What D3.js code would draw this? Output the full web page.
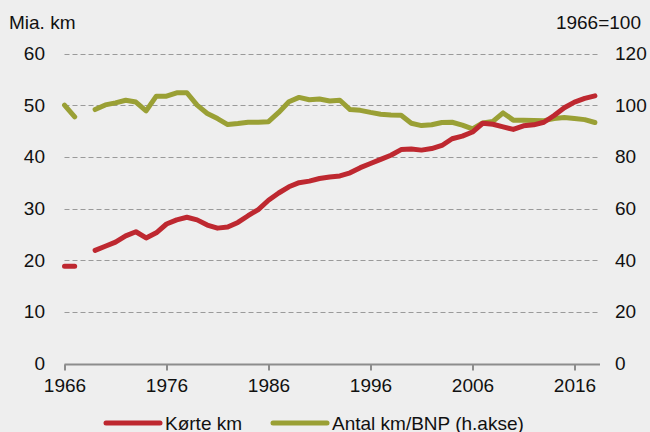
<!DOCTYPE html>
<html>
<head>
<meta charset="utf-8">
<script src="https://cdn.jsdelivr.net/npm/d3@7"></script>
<style>
  html, body { margin: 0; padding: 0; background: #eeeeee; }
  svg text { font-family: "Liberation Sans", Arial, sans-serif; fill: #111111; }
</style>
</head>
<body>
<div id="chart"></div>
<script>
// data
const years = d3.range(1966, 2019);
const korteKm = [18.8, 18.8, null, 21.9, 22.7, 23.5, 24.7, 25.5, 24.3, 25.3,
    27.0, 27.8, 28.3, 27.8, 26.8, 26.2, 26.4, 27.3, 28.6, 29.8,
    31.6, 33.0, 34.2, 35.0, 35.3, 35.8, 36.1, 36.3, 36.9, 37.9,
    38.7, 39.5, 40.3, 41.4, 41.5, 41.3, 41.6, 42.2, 43.5, 44.0,
    44.8, 46.5, 46.3, 45.8, 45.3, 46.0, 46.2, 46.7, 48.0, 49.5,
    50.6, 51.3, 51.8];
const kmBnp = [100, 95.5, null, 98.3, 100.1, 100.9, 101.9, 101.2, 97.8, 103.5,
    103.5, 104.8, 104.8, 100.0, 96.8, 94.8, 92.5, 92.9, 93.4, 93.4,
    93.6, 97.2, 101.3, 103.0, 102.1, 102.4, 101.6, 101.9, 98.3, 98.0,
    97.2, 96.5, 96.2, 96.1, 93.0, 92.1, 92.4, 93.3, 93.4, 92.3,
    90.8, 93.1, 93.7, 97.0, 94.2, 94.2, 94.1, 94.0, 94.8, 95.2,
    94.8, 94.4, 93.3];
const leftTicks = [0, 10, 20, 30, 40, 50, 60];
const rightTicks = [0, 20, 40, 60, 80, 100, 120];
const xTicks = [1966, 1976, 1986, 1996, 2006, 2016];
const seriesNames = ["Kørte km", "Antal km/BNP (h.akse)"];
const seriesColors = ["#be2830", "#9aa035"];

const width = 650, height = 432;
const fontSize = "19px";
const svg = d3.select("#chart").append("svg")
    .attr("width", width)
    .attr("height", height);

svg.append("rect").attr("width", width).attr("height", height).attr("fill", "#eeeeee");

const x = d3.scaleLinear().domain([1966, 2018.5]).range([64.5, 600]);
const yL = d3.scaleLinear().domain([0, 60]).range([363.5, 53.5]);
const yR = d3.scaleLinear().domain([0, 120]).range([363.5, 53.5]);

// gridlines
svg.append("g").selectAll("line")
    .data(leftTicks.filter(d => d > 0))
    .enter().append("line")
    .attr("x1", x(1966))
    .attr("x2", 598)
    .attr("y1", d => Math.round(yL(d)) + 0.5)
    .attr("y2", d => Math.round(yL(d)) + 0.5)
    .attr("stroke", "#9a9a9a")
    .attr("stroke-width", 1)
    .attr("stroke-dasharray", "5,3");

// left axis labels
svg.append("g").selectAll("text")
    .data(leftTicks)
    .enter().append("text")
    .attr("x", 45)
    .attr("y", d => yL(d))
    .attr("dy", "0.35em")
    .attr("text-anchor", "end")
    .style("font-size", fontSize)
    .text(d => d);

// right axis labels
svg.append("g").selectAll("text")
    .data(rightTicks)
    .enter().append("text")
    .attr("x", 615)
    .attr("y", d => yR(d))
    .attr("dy", "0.35em")
    .attr("text-anchor", "start")
    .style("font-size", fontSize)
    .text(d => d);

svg.append("text").attr("x", 9).attr("y", 29).style("font-size", fontSize).text("Mia. km");
svg.append("text").attr("x", 641).attr("y", 29).attr("text-anchor", "end").style("font-size", fontSize).text("1966=100");

// x axis
const xAxis = d3.axisBottom(x).tickValues(xTicks).tickFormat(d3.format("d")).tickSize(6).tickPadding(8);
const gx = svg.append("g")
    .attr("transform", "translate(0," + (Math.round(yL(0)) + 0.5) + ")")
    .call(xAxis);
gx.select(".domain").attr("stroke", "#8c8c8c").attr("stroke-width", 2).attr("d", "M" + x(1966) + ",0H600");
gx.selectAll(".tick line").attr("stroke", "#8c8c8c").attr("stroke-width", 2);
gx.selectAll(".tick text").style("font-size", fontSize).attr("fill", "#111111").style("font-family", "Liberation Sans, Arial, sans-serif");

// lines
const lineL = d3.line()
    .defined(d => d[1] != null)
    .x(d => x(d[0]))
    .y(d => yL(d[1]));
const lineR = d3.line()
    .defined(d => d[1] != null)
    .x(d => x(d[0]))
    .y(d => yR(d[1]));

svg.append("path")
    .datum(years.map((yr, i) => [yr, kmBnp[i]]))
    .attr("d", lineR)
    .attr("fill", "none")
    .attr("stroke", seriesColors[1])
    .attr("stroke-width", 5)
    .attr("stroke-linejoin", "round")
    .attr("stroke-linecap", "round");

svg.append("path")
    .datum(years.map((yr, i) => [yr, korteKm[i]]))
    .attr("d", lineL)
    .attr("fill", "none")
    .attr("stroke", seriesColors[0])
    .attr("stroke-width", 5)
    .attr("stroke-linejoin", "round")
    .attr("stroke-linecap", "round");

// legend
const legendX = [106, 273];
const legend = svg.append("g").selectAll("g")
    .data(seriesNames)
    .enter().append("g")
    .attr("transform", (d, i) => "translate(" + legendX[i] + ",423)");
legend.append("line")
    .attr("x1", 0).attr("x2", 54)
    .attr("y1", 0).attr("y2", 0)
    .attr("stroke", (d, i) => seriesColors[i])
    .attr("stroke-width", 5)
    .attr("stroke-linecap", "round");
legend.append("text")
    .attr("x", 59)
    .attr("y", 6.5)
    .style("font-size", fontSize)
    .text(d => d);
</script>
</body>
</html>
